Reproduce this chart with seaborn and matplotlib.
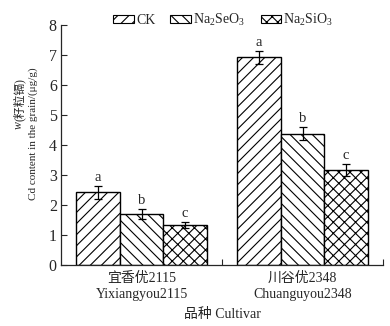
import matplotlib
matplotlib.use("Agg")
import matplotlib.pyplot as plt
from matplotlib.patches import Patch
import pandas as pd
import seaborn as sns

cultivars = ["宜香优2115\nYixiangyou2115", "川谷优2348\nChuanguyou2348"]
treatments = ["CK", "Na$_\\mathregular{2}$SeO$_\\mathregular{3}$", "Na$_\\mathregular{2}$SiO$_\\mathregular{3}$"]
ck_mean = [2.42, 6.92]
se_mean = [1.70, 4.38]
si_mean = [1.32, 3.16]
ck_err = [0.21, 0.21]
se_err = [0.17, 0.21]
si_err = [0.10, 0.20]
ck_letters = ["a", "a"]
se_letters = ["b", "b"]
si_letters = ["c", "c"]
hatches = ["///", "\\\\\\", "xxx"]

sns.set_theme(style="ticks")
plt.rcParams["font.family"] = ["Liberation Serif", "Noto Sans CJK SC"]
plt.rcParams["mathtext.fontset"] = "custom"
plt.rcParams["mathtext.rm"] = "Liberation Serif"
plt.rcParams["mathtext.it"] = "Liberation Serif:italic"
plt.rcParams["hatch.linewidth"] = 0.8
plt.rcParams["hatch.color"] = "black"

means = [ck_mean, se_mean, si_mean]
errs = [ck_err, se_err, si_err]
letters = [ck_letters, se_letters, si_letters]

rows = []
for t, m in zip(treatments, means):
    for c, v in zip(cultivars, m):
        rows.append({"cultivar": c, "treatment": t, "cd": v})
df = pd.DataFrame(rows)

fig = plt.figure(figsize=(3.9, 3.26), dpi=100)
ax = fig.add_axes([61 / 390, 1 - 265 / 326, (383 - 61) / 390, 240 / 326])

sns.barplot(data=df, x="cultivar", y="cd", hue="treatment", order=cultivars,
            hue_order=treatments, palette=["white"] * 3, width=0.81,
            edgecolor="black", linewidth=1.0, errorbar=None, legend=False,
            saturation=1, ax=ax)

for cont, h, e, lab in zip(ax.containers, hatches, errs, letters):
    for bar, ev, lt in zip(cont, e, lab):
        bar.set_hatch(h)
        xc = bar.get_x() + bar.get_width() / 2
        top = bar.get_height()
        ax.errorbar(xc, top, yerr=ev, color="black", elinewidth=0.9,
                    capsize=3, capthick=0.9)
        ax.annotate(lt, (xc, top + ev), xytext=(0, 1.5), textcoords="offset points",
                    ha="center", va="bottom", fontsize=10.5)

ax.set_xlim(-0.5, 1.5)
ax.set_ylim(0, 8)
ax.set_yticks(range(0, 9))
ax.set_xticks([0.5, 1.5], minor=True)
ax.tick_params(axis="x", which="major", length=0, labelsize=10, pad=5)
ax.tick_params(axis="x", which="minor", direction="in", length=4, width=0.8)
ax.tick_params(axis="y", direction="in", length=4, width=0.8, labelsize=11.5, pad=3)
for t in ax.get_xticklabels():
    t.set_linespacing(1.25)
ax.set_xlabel("品种 Cultivar", fontsize=10, labelpad=5.5)
ax.set_ylabel("")
sns.despine(ax=ax)
for s in ["left", "bottom"]:
    ax.spines[s].set_linewidth(0.9)

# two-line y label
y0 = 1 - 121 / 326
fig.text(19 / 390, y0, "(籽粒镉)", rotation=90, ha="center", va="bottom", fontsize=8.5)
fig.text(19 / 390, y0, "w", rotation=90, ha="center", va="top", fontsize=8.5, style="italic")
fig.text(33 / 390, 1 - 133.5 / 326, "Cd content in the grain/(μg/g)", rotation=90,
         ha="center", va="center", fontsize=8)

handles = [Patch(facecolor="white", edgecolor="black", hatch=h, linewidth=0.8) for h in hatches]
fig.legend(handles, treatments, loc="center", bbox_to_anchor=(223 / 390, 1 - 20 / 326),
           ncol=3, frameon=False, fontsize=10, handlelength=1.5, handleheight=0.5,
           handletextpad=0.15, columnspacing=1.1, borderaxespad=0)

fig.savefig("out.png", dpi=100)
